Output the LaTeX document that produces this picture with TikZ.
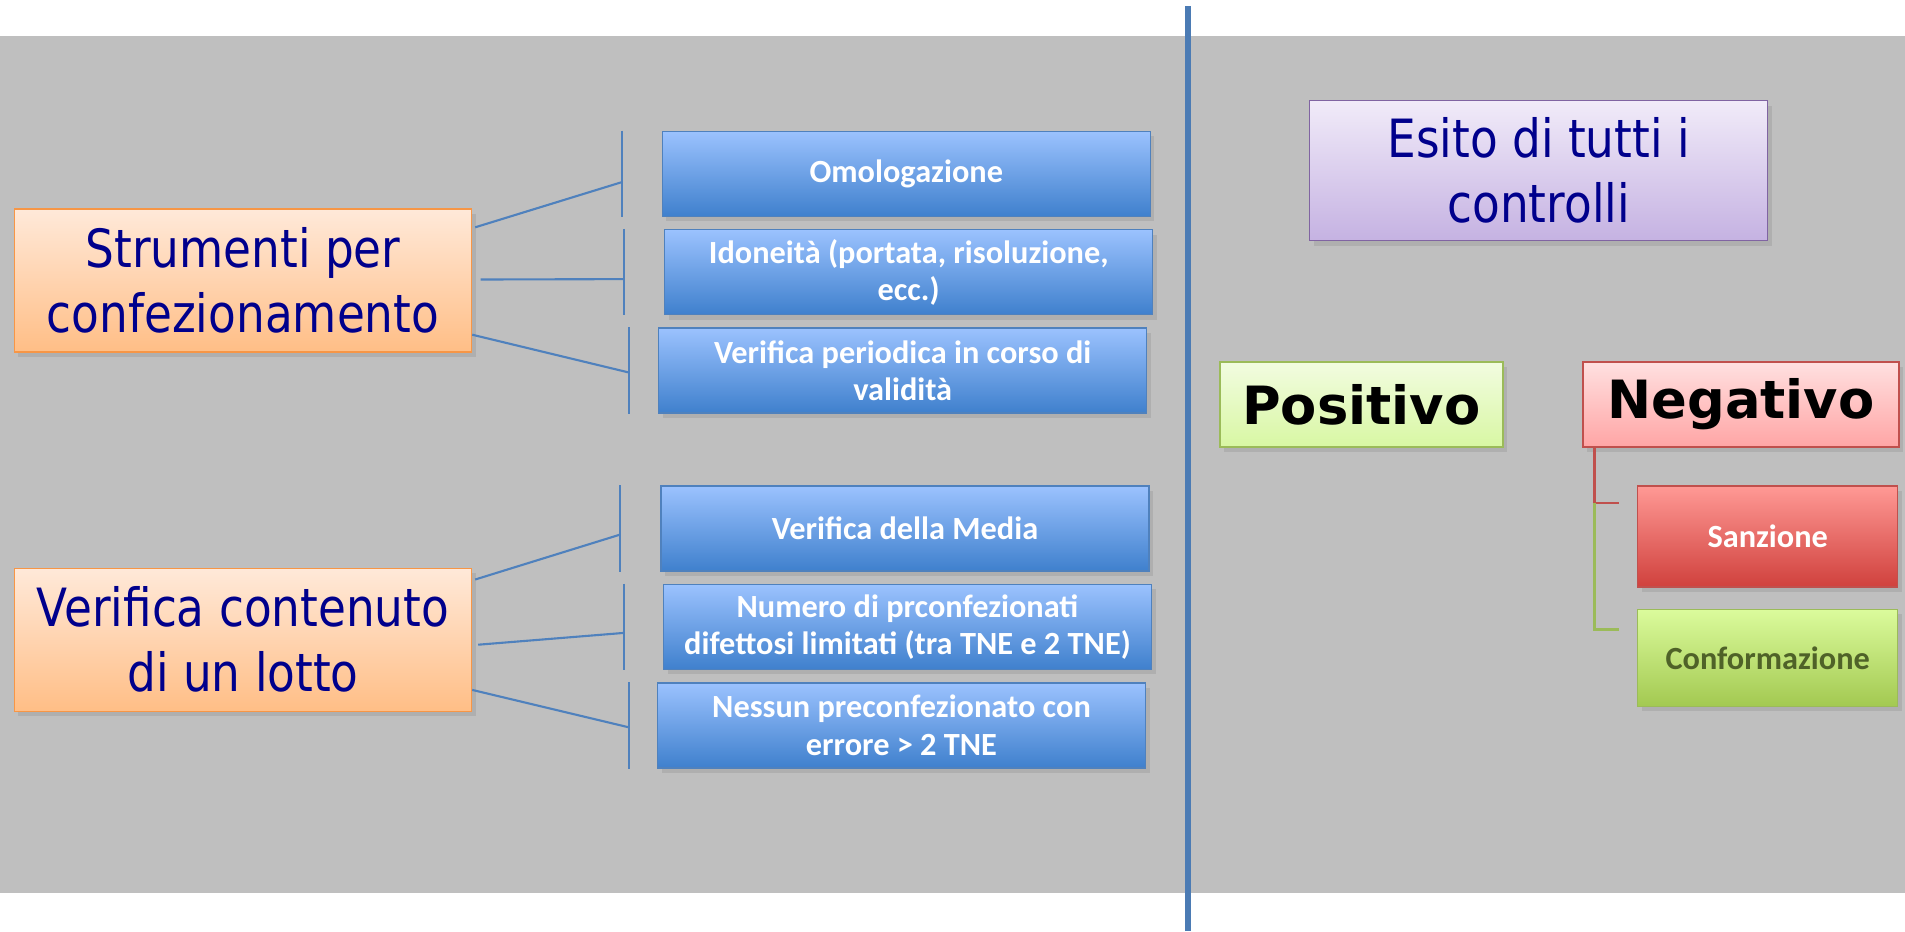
\documentclass[tikz,border=0pt]{standalone}
\usepackage{fontspec}
\setmainfont{Carlito}
\newfontfamily\headfont{DejaVu Sans}[FakeStretch=0.86]
\newfontfamily\outfont{DejaVu Sans}
\usetikzlibrary{positioning,shadows}
\definecolor{navytext}{RGB}{0,0,140}
\definecolor{linkblue}{RGB}{79,129,189}
\definecolor{bandgray}{RGB}{191,191,191}
\definecolor{redline}{RGB}{192,80,77}
\definecolor{greenline}{RGB}{155,187,89}

\begin{document}
\begin{tikzpicture}[
box/.style={rectangle, minimum width=4.88cm, minimum height=0.85cm, inner ysep=1pt, align=center,
  draw=linkblue, top color={rgb,255:red,155;green,194;blue,254}, bottom color={rgb,255:red,63;green,128;blue,205},
  text=white, font=\fontsize{9.2}{10.6}\selectfont\bfseries,
  drop shadow={shadow xshift=0.04cm, shadow yshift=-0.05cm, opacity=0.25}},
group/.style={rectangle, minimum width=4.57cm, minimum height=1.43cm, align=center,
  draw={rgb,255:red,247;green,150;blue,70}, top color={rgb,255:red,255;green,233;blue,217}, bottom color={rgb,255:red,255;green,190;blue,134},
  text=navytext, font=\headfont\fontsize{15}{18.5}\selectfont,
  drop shadow={shadow xshift=0.04cm, shadow yshift=-0.05cm, opacity=0.25}},
link/.style={draw=linkblue, line width=0.6pt},
outcome/.style={rectangle, minimum height=0.85cm, align=center, text=black,
  font=\outfont\fontsize{15}{17}\selectfont\bfseries,
  drop shadow={shadow xshift=0.04cm, shadow yshift=-0.05cm, opacity=0.25}}
]
\useasboundingbox (0,0) rectangle (19.05,9.31);
\fill[bandgray] (0,0.38) rectangle (19.05,8.95);
\draw[linkblue!95!black, line width=1.5pt] (11.88,0) -- (11.88,9.25);

%Nodes
\node[group]      (str)     at (2.43,6.505)                 {Strumenti per\\confezionamento};
\node[group]      (ver)     at (2.43,2.913)                 {Verifica contenuto\\di un lotto};
\node[box]        (om)      at (9.063,7.573)                {Omologazione};
\node[box]        (ido)     [below=0.12cm of om, xshift=0.024cm]  {Idoneità (portata, risoluzione,\\ecc.)};
\node[box]        (per)     [below=0.12cm of ido, xshift=-0.06cm] {Verifica periodica in corso di\\validità};
\node[box]        (med)     at (9.051,4.025)                {Verifica della Media};
\node[box]        (num)     [below=0.12cm of med, xshift=0.024cm] {Numero di prconfezionati\\difettosi limitati (tra TNE e 2 TNE)};
\node[box]        (nes)     [below=0.12cm of num, xshift=-0.06cm] {Nessun preconfezionato con\\errore > 2 TNE};
\node[group, minimum width=4.58cm, minimum height=1.40cm,
  draw={rgb,255:red,128;green,100;blue,162}, top color={rgb,255:red,241;green,235;blue,249},
  bottom color={rgb,255:red,197;green,178;blue,226}]
                  (esi)     at (15.387,7.603)               {Esito di tutti i\\controlli};
\node[outcome, minimum width=2.83cm, draw=greenline,
  top color={rgb,255:red,242;green,252;blue,224}, bottom color={rgb,255:red,216;green,247;blue,163}]
                  (pos)     at (13.613,5.264)               {Positivo};
\node[outcome, minimum width=3.16cm, draw=redline,
  top color={rgb,255:red,255;green,224;blue,224}, bottom color={rgb,255:red,255;green,165;blue,165}]
                  (neg)     at (17.41,5.264)                {Negativo};
\node[box, minimum width=2.60cm, minimum height=1.01cm, draw=redline,
  top color={rgb,255:red,255;green,153;blue,149}, bottom color={rgb,255:red,208;green,65;blue,61}]
                  (san)     at (17.677,3.946)               {Sanzione};
\node[box, minimum width=2.60cm, minimum height=0.97cm, draw=greenline,
  top color={rgb,255:red,219;green,251;blue,156}, bottom color={rgb,255:red,163;green,201;blue,81},
  text={rgb,255:red,79;green,98;blue,40}]
                  (con)     [below=0.21cm of san]           {Conformazione};

%Bars
\coordinate (t1) at ([xshift=-0.40cm, yshift=-0.085cm]om.west);
\coordinate (t2) at ([xshift=-0.40cm, yshift=-0.07cm]ido.west);
\coordinate (t3) at ([xshift=-0.29cm, yshift=-0.02cm]per.west);
\coordinate (t4) at ([xshift=-0.40cm, yshift=-0.06cm]med.west);
\coordinate (t5) at ([xshift=-0.39cm, yshift=-0.06cm]num.west);
\coordinate (t6) at ([xshift=-0.28cm, yshift=-0.02cm]nes.west);
\draw[link] (om.north -| t1) -- (om.south -| t1);
\draw[link] (ido.north -| t2) -- (ido.south -| t2);
\draw[link] (per.north -| t3) -- (per.south -| t3);
\draw[link] (med.north -| t4) -- (med.south -| t4);
\draw[link] (num.north -| t5) -- (num.south -| t5);
\draw[link] (nes.north -| t6) -- (nes.south -| t6);

%Lines
\draw[link] ([xshift=0.03cm, yshift=-0.19cm]str.north east) -- (t1);
\draw[link] ([xshift=0.085cm, yshift=0.01cm]str.east) -- (t2);
\draw[link] ([yshift=0.18cm]str.south east) -- (t3);
\draw[link] ([xshift=0.03cm, yshift=-0.12cm]ver.north east) -- (t4);
\draw[link] ([xshift=0.06cm, yshift=-0.05cm]ver.east) -- (t5);
\draw[link] ([yshift=0.22cm]ver.south east) -- (t6);
\draw[redline, line width=0.7pt] ([xshift=0.12cm]neg.south west) |- ([xshift=-0.18cm, yshift=-0.18cm]san.north west) coordinate[pos=0.5] (k);
\draw[greenline, line width=0.7pt] (k) |- ([xshift=-0.18cm, yshift=-0.21cm]con.north west);
\end{tikzpicture}
\end{document}
